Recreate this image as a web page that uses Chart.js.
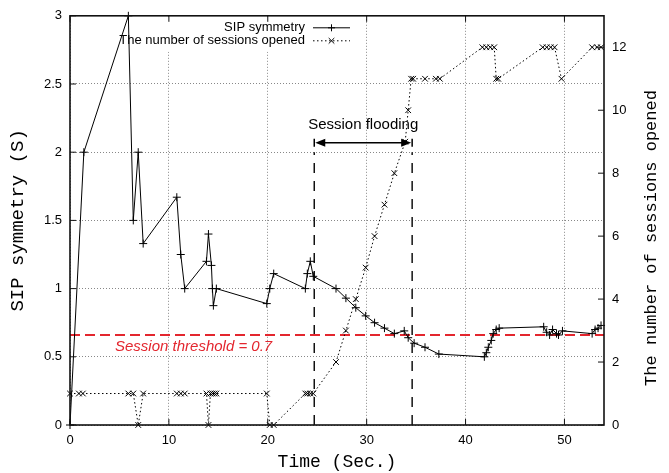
<!DOCTYPE html>
<html>
<head>
<meta charset="utf-8">
<script src="https://cdn.jsdelivr.net/npm/chart.js@4/dist/chart.umd.min.js"></script>
<style>
  html, body { margin: 0; padding: 0; background: #fff; }
  #wrap { width: 669px; height: 473px; }
</style>
</head>
<body>
<div id="wrap"><canvas id="chart"></canvas></div>
<script>
// SIP symmetry (left axis)
const symTime = [0, 1.4, 5.9, 6.4, 6.9, 7.4, 10.8, 11.2, 11.6, 13.8, 14.0, 14.3, 14.4, 14.5, 14.8,
  19.9, 20.2, 20.6, 23.8, 24.0, 24.3, 24.6, 26.9, 27.9, 28.9, 29.9, 30.8, 31.8, 32.8, 33.8, 34.2,
  34.8, 35.9, 37.3, 41.9, 42.1, 42.3, 42.6, 42.8, 43.1, 43.4, 47.9, 48.2, 48.5, 48.8, 49.2, 49.4,
  49.8, 52.8, 53.1, 53.4, 53.7];
const symValue = [0, 2, 3, 1.5, 2, 1.33, 1.67, 1.25, 1.0, 1.2, 1.4, 1.17, 1.0, 0.875, 1.0,
  0.89, 1.0, 1.11, 1.0, 1.11, 1.2, 1.09, 1.0, 0.93, 0.86, 0.8, 0.75, 0.71, 0.67, 0.69, 0.64,
  0.6, 0.57, 0.52, 0.5, 0.53, 0.57, 0.62, 0.67, 0.7, 0.71, 0.72, 0.68, 0.66, 0.7, 0.67, 0.66,
  0.69, 0.67, 0.7, 0.71, 0.73];

// number of sessions opened (right axis)
const sessTime = [0, 0.9, 1.3, 5.9, 6.4, 6.9, 7.4, 10.8, 11.2, 11.6, 13.8, 14.0, 14.2, 14.4, 14.6, 14.8,
  19.9, 20.2, 20.6, 23.8, 24.0, 24.3, 24.6, 26.9, 27.9, 28.9, 29.9, 30.8, 31.8, 32.8, 33.9,
  34.2, 34.5, 34.7, 35.9, 37.0, 37.4, 41.7, 42.1, 42.5, 42.9, 43.1, 43.3, 47.8, 48.2, 48.6, 49.0,
  49.7, 52.8, 53.3, 53.7];
const sessCount = [1, 1, 1, 1, 1, 0, 1, 1, 1, 1, 1, 0, 1, 1, 1, 1,
  1, 0, 0, 1, 1, 1, 1, 2, 3, 4, 5, 6, 7, 8, 9,
  10, 11, 11, 11, 11, 11, 12, 12, 12, 12, 11, 11, 12, 12, 12, 12,
  11, 12, 12, 12];

const thresholdLevel = 0.66;
const thresholdLabel = 'Session threshold = 0.7';
const thresholdLabelAt = [12.5, 0.57];

const floodRange = [24.7, 34.6];
const floodLineTop = 2.0;
const floodArrowLevel = 2.07;
const floodLabel = 'Session flooding';
const floodLabelLevel = 2.2;

const timeRange = [0, 54];
const symRange = [0, 3];
const sessRange = [0, 13];

const toPoints = (xs, ys) => xs.map((x, i) => ({ x: x, y: ys[i] }));

const sans = '"Liberation Sans", Arial, sans-serif';
const mono = '"Liberation Mono", "DejaVu Sans Mono", monospace';

const decor = {
  id: 'decor',
  beforeDatasetsDraw(chart) {
    const { ctx, chartArea: a } = chart;
    const sym = chart.data.datasets[0], sess = chart.data.datasets[1];
    ctx.save();
    ctx.fillStyle = '#fff';
    ctx.fillRect(a.left + 44, a.top + 2, 245, 34);
    ctx.font = '13px ' + sans;
    ctx.fillStyle = '#000';
    ctx.textAlign = 'right';
    ctx.textBaseline = 'middle';
    const tx = a.left + 235, sx0 = a.left + 243, sx1 = a.left + 280;
    const rows = [[sym, a.top + 12], [sess, a.top + 25]];
    rows.forEach(([ds, yy]) => {
      ctx.fillText(ds.label, tx, yy);
      ctx.strokeStyle = '#000';
      ctx.lineWidth = 1;
      ctx.setLineDash(ds.borderDash || []);
      ctx.beginPath(); ctx.moveTo(sx0, yy); ctx.lineTo(sx1, yy); ctx.stroke();
      ctx.setLineDash([]);
      const cx = (sx0 + sx1) / 2, r = 3.5;
      ctx.beginPath();
      if (ds.pointStyle === 'cross') {
        ctx.moveTo(cx - r, yy); ctx.lineTo(cx + r, yy); ctx.moveTo(cx, yy - r); ctx.lineTo(cx, yy + r);
      } else {
        ctx.moveTo(cx - r * 0.8, yy - r * 0.8); ctx.lineTo(cx + r * 0.8, yy + r * 0.8);
        ctx.moveTo(cx - r * 0.8, yy + r * 0.8); ctx.lineTo(cx + r * 0.8, yy - r * 0.8);
      }
      ctx.stroke();
    });
    ctx.restore();
  },
  afterDatasetsDraw(chart) {
    const { ctx, chartArea: a, scales } = chart;
    const x = scales.x, y = scales.y, y2 = scales.y2;
    ctx.save();
    // frame
    ctx.strokeStyle = '#111';
    ctx.lineWidth = 1.6;
    ctx.strokeRect(a.left, a.top, a.right - a.left, a.bottom - a.top);
    // inward tick marks
    ctx.lineWidth = 1;
    ctx.beginPath();
    x.ticks.forEach(t => {
      const px = x.getPixelForValue(t.value);
      ctx.moveTo(px, a.bottom); ctx.lineTo(px, a.bottom - 6);
      ctx.moveTo(px, a.top); ctx.lineTo(px, a.top + 6);
    });
    y.ticks.forEach(t => {
      const py = y.getPixelForValue(t.value);
      ctx.moveTo(a.left, py); ctx.lineTo(a.left + 6, py);
    });
    y2.ticks.forEach(t => {
      const py = y2.getPixelForValue(t.value);
      ctx.moveTo(a.right, py); ctx.lineTo(a.right - 6, py);
    });
    ctx.stroke();

    // flooding arrow
    const fx0 = x.getPixelForValue(floodRange[0]);
    const fx1 = x.getPixelForValue(floodRange[1]);
    const fy = y.getPixelForValue(floodArrowLevel);
    ctx.strokeStyle = '#000';
    ctx.fillStyle = '#000';
    ctx.lineWidth = 1.5;
    ctx.beginPath();
    ctx.moveTo(fx0 + 6, fy); ctx.lineTo(fx1 - 6, fy);
    ctx.moveTo(fx0, fy - 4); ctx.lineTo(fx0, fy + 4);
    ctx.moveTo(fx1, fy - 4); ctx.lineTo(fx1, fy + 4);
    ctx.stroke();
    ctx.beginPath();
    ctx.moveTo(fx0 + 1, fy); ctx.lineTo(fx0 + 11, fy - 4); ctx.lineTo(fx0 + 11, fy + 4); ctx.closePath();
    ctx.moveTo(fx1 - 1, fy); ctx.lineTo(fx1 - 11, fy - 4); ctx.lineTo(fx1 - 11, fy + 4); ctx.closePath();
    ctx.fill();

    ctx.font = '15px ' + sans;
    ctx.textAlign = 'center';
    ctx.textBaseline = 'middle';
    ctx.fillText(floodLabel, (fx0 + fx1) / 2, y.getPixelForValue(floodLabelLevel));

    ctx.font = 'italic 15px ' + sans;
    ctx.fillStyle = '#e3262e';
    ctx.fillText(thresholdLabel, x.getPixelForValue(thresholdLabelAt[0]), y.getPixelForValue(thresholdLabelAt[1]));

    // right axis title, reading bottom to top
    ctx.fillStyle = '#000';
    ctx.font = '17px ' + mono;
    ctx.translate(651, 238);
    ctx.rotate(-Math.PI / 2);
    ctx.fillText('The number of sessions opened', 0, 0);
    ctx.restore();
  }
};

new Chart(document.getElementById('chart'), {
  type: 'scatter',
  data: {
    datasets: [
      {
        label: 'SIP symmetry',
        data: toPoints(symTime, symValue),
        yAxisID: 'y',
        showLine: true,
        borderColor: '#000',
        borderWidth: 1,
        pointStyle: 'cross',
        pointRadius: 4,
        pointBorderWidth: 1,
        pointBorderColor: '#000',
        clip: 8,
        order: 1
      },
      {
        label: 'The number of sessions opened',
        data: toPoints(sessTime, sessCount),
        yAxisID: 'y2',
        showLine: true,
        borderColor: '#000',
        borderWidth: 1,
        borderDash: [1.5, 2.5],
        pointStyle: 'crossRot',
        pointRadius: 4,
        pointBorderWidth: 1,
        pointBorderColor: '#000',
        clip: 8,
        order: 2
      },
      {
        label: 'threshold',
        data: toPoints(timeRange, [thresholdLevel, thresholdLevel]),
        yAxisID: 'y',
        showLine: true,
        borderColor: '#e3262e',
        borderWidth: 2,
        borderDash: [10, 5],
        pointRadius: 0,
        order: 3
      },
      {
        label: 'flood start',
        data: toPoints([floodRange[0], floodRange[0]], [0, floodLineTop]),
        yAxisID: 'y',
        showLine: true,
        borderColor: '#111',
        borderWidth: 1.5,
        borderDash: [10, 8],
        pointRadius: 0,
        order: 4
      },
      {
        label: 'flood end',
        data: toPoints([floodRange[1], floodRange[1]], [0, floodLineTop]),
        yAxisID: 'y',
        showLine: true,
        borderColor: '#111',
        borderWidth: 1.5,
        borderDash: [10, 8],
        pointRadius: 0,
        order: 4
      }
    ]
  },
  options: {
    responsive: true,
    maintainAspectRatio: false,
    animation: false,
    layout: { padding: { top: 11, left: 0, right: 0, bottom: 0 } },
    plugins: {
      legend: { display: false },
      tooltip: { enabled: false }
    },
    scales: {
      x: {
        type: 'linear',
        min: timeRange[0],
        max: timeRange[1],
        afterFit: s => { s.height = 48; },
        ticks: {
          stepSize: 10,
          includeBounds: false,
          padding: 8,
          color: '#000',
          font: { family: sans, size: 13 }
        },
        grid: { color: '#888', lineWidth: 1, drawTicks: false },
        border: { display: false, dash: [1, 2] },
        title: {
          display: true,
          text: 'Time (Sec.)',
          color: '#000',
          font: { family: mono, size: 18 },
          padding: { top: 2, bottom: 0 }
        }
      },
      y: {
        position: 'left',
        min: symRange[0],
        max: symRange[1],
        afterFit: s => { s.width = 70; },
        ticks: {
          stepSize: 0.5,
          padding: 8,
          color: '#000',
          font: { family: sans, size: 13 },
          callback: v => String(v)
        },
        grid: { color: '#888', lineWidth: 1, drawTicks: false },
        border: { display: false, dash: [1, 2] },
        title: {
          display: true,
          text: 'SIP symmetry (S)',
          color: '#000',
          font: { family: mono, size: 19 },
          padding: { top: 7, bottom: 0 }
        }
      },
      y2: {
        position: 'right',
        min: sessRange[0],
        max: sessRange[1],
        afterFit: s => { s.width = 65; },
        ticks: {
          stepSize: 2,
          includeBounds: false,
          padding: 8,
          color: '#000',
          font: { family: sans, size: 13 }
        },
        grid: { display: false, drawTicks: false },
        border: { display: false }
      }
    }
  },
  plugins: [decor]
});
</script>
</body>
</html>
